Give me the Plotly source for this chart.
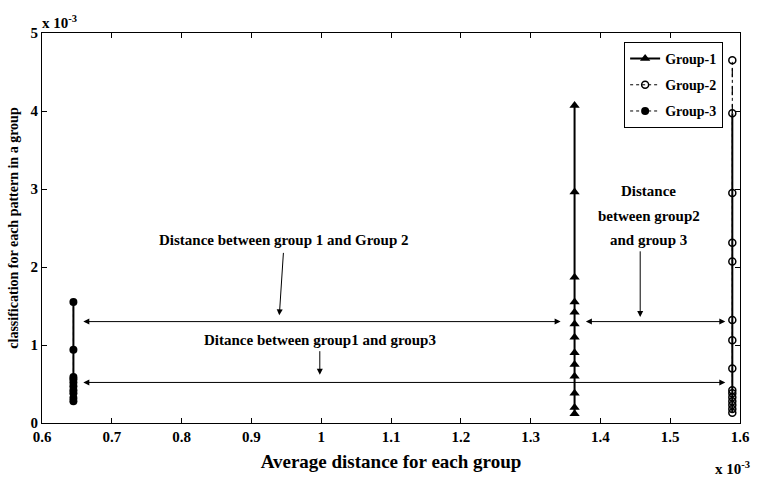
import plotly.graph_objects as go

# data (values in units of 1e-3)
g1_x = 1.363
g1_y = [0.12, 0.2, 0.38, 0.6, 0.75, 0.9, 1.1, 1.27, 1.42, 1.55, 1.87, 2.96, 4.07]
g2_x = 1.589
g2_y = [0.13, 0.18, 0.23, 0.28, 0.33, 0.38, 0.42, 0.70, 1.06, 1.32, 2.07, 2.31, 2.95, 3.97]
g2_top = [3.97, 4.65]
g3_x = 0.645
g3_y = [0.28, 0.32, 0.38, 0.42, 0.47, 0.52, 0.56, 0.59, 0.94, 1.55]

x_ticks = [0.6, 0.7, 0.8, 0.9, 1.0, 1.1, 1.2, 1.3, 1.4, 1.5, 1.6]
x_tick_text = ["0.6", "0.7", "0.8", "0.9", "1", "1.1", "1.2", "1.3", "1.4", "1.5", "1.6"]
y_ticks = [0, 1, 2, 3, 4, 5]

FONT = "Liberation Serif"

fig = go.Figure()

# solid connecting lines as drawn in the plot
fig.add_trace(go.Scatter(x=[g3_x] * len(g3_y), y=g3_y, mode="lines",
                         line=dict(color="black", width=2), showlegend=False, hoverinfo="skip"))
fig.add_trace(go.Scatter(x=[g2_x] * len(g2_y), y=g2_y, mode="lines",
                         line=dict(color="black", width=2), showlegend=False, hoverinfo="skip"))
fig.add_trace(go.Scatter(x=[g2_x] * len(g2_top), y=g2_top, mode="lines",
                         line=dict(color="black", width=1.2, dash="dash"), showlegend=False, hoverinfo="skip"))

fig.add_trace(go.Scatter(x=[g1_x] * len(g1_y), y=g1_y, mode="lines+markers", name="<b>Group-1</b>",
                         legendgroup="a",
                         line=dict(color="black", width=2),
                         marker=dict(symbol="triangle-up", size=9, color="black")))
fig.add_trace(go.Scatter(x=[g2_x] * (len(g2_y) + 1), y=g2_y + [g2_top[-1]], mode="lines+markers",
                         name="<b>Group-2</b>", legendgroup="b",
                         line=dict(color="black", width=1, dash="dot"),
                         marker=dict(symbol="circle-open", size=7, color="black", line=dict(width=1.5))))
fig.add_trace(go.Scatter(x=[g3_x] * len(g3_y), y=g3_y, mode="lines+markers", name="<b>Group-3</b>",
                         legendgroup="c",
                         line=dict(color="black", width=1, dash="dot"),
                         marker=dict(symbol="circle", size=8, color="black")))

ann = []
# double-headed horizontal arrows
for (xa, xb, yv) in [(0.657, 1.343, 1.30), (0.657, 1.579, 0.52), (1.377, 1.579, 1.30)]:
    ann.append(dict(x=xb, y=yv, ax=xa, ay=yv, xref="x", yref="y", axref="x", ayref="y",
                    text="", showarrow=True, arrowhead=2, arrowside="end+start",
                    arrowsize=1.2, arrowwidth=1, arrowcolor="black"))
# pointer arrows
for (xt, yt, xh, yh) in [(0.946, 2.20, 0.940, 1.38), (0.998, 0.94, 0.998, 0.62), (1.457, 2.22, 1.457, 1.36)]:
    ann.append(dict(x=xh, y=yh, ax=xt, ay=yt, xref="x", yref="y", axref="x", ayref="y",
                    text="", showarrow=True, arrowhead=2, arrowsize=1.2, arrowwidth=1,
                    arrowcolor="black"))
# texts
tf = dict(family=FONT, size=15, color="black")
ann.append(dict(x=0.946, y=2.35, xref="x", yref="y", text="<b>Distance between group 1 and Group 2</b>",
                showarrow=False, font=tf))
ann.append(dict(x=0.998, y=1.07, xref="x", yref="y", text="<b>Ditance between group1 and group3</b>",
                showarrow=False, font=tf))
ann.append(dict(x=1.469, y=2.98, xref="x", yref="y", text="<b>Distance</b>", showarrow=False, font=tf))
ann.append(dict(x=1.469, y=2.66, xref="x", yref="y", text="<b>between group2</b>", showarrow=False, font=tf))
ann.append(dict(x=1.469, y=2.34, xref="x", yref="y", text="<b>and group 3</b>", showarrow=False, font=tf))
# exponent labels
ann.append(dict(x=0.0, y=1.0, xref="paper", yref="paper", xanchor="left", yanchor="bottom",
                text="<b>x 10<sup>-3</sup></b>", showarrow=False, font=dict(family=FONT, size=15, color="black"),
                xshift=-2, yshift=0))
ann.append(dict(x=1.0, y=0.0, xref="paper", yref="paper", xanchor="right", yanchor="top",
                text="<b>x 10<sup>-3</sup></b>", showarrow=False, font=dict(family=FONT, size=15, color="black"),
                yshift=-34, xshift=12))

fig.update_layout(
    width=761, height=482,
    margin=dict(l=42, r=11, t=33, b=59),
    paper_bgcolor="white", plot_bgcolor="white",
    font=dict(family=FONT, color="black"),
    showlegend=True,
    legend=dict(x=0.834, y=0.977, xanchor="left", yanchor="top",
                bordercolor="black", borderwidth=1, bgcolor="white",
                font=dict(family=FONT, size=14, color="black"),
                tracegroupgap=5, itemwidth=30),
    annotations=ann,
)
fig.update_xaxes(range=[0.6, 1.6], tickvals=x_ticks, ticktext=["<b>%s</b>" % t for t in x_tick_text],
                 ticks="inside", ticklen=5, tickcolor="black", showline=True, linecolor="black", linewidth=1,
                 mirror="ticks", showgrid=False, zeroline=False,
                 tickfont=dict(family=FONT, size=15, color="black"),
                 title=dict(text="<b>Average distance for each group</b>", font=dict(family=FONT, size=19, color="black"),
                            standoff=10))
fig.update_yaxes(range=[0, 5], tickvals=y_ticks, ticktext=["<b>%d</b>" % t for t in y_ticks],
                 ticks="inside", ticklen=5, tickcolor="black", showline=True, linecolor="black", linewidth=1,
                 mirror="ticks", showgrid=False, zeroline=False,
                 tickfont=dict(family=FONT, size=15, color="black"),
                 title=dict(text="<b>classification for each pattern in a group</b>",
                            font=dict(family=FONT, size=14, color="black"), standoff=8))

fig.write_html("out.html")
